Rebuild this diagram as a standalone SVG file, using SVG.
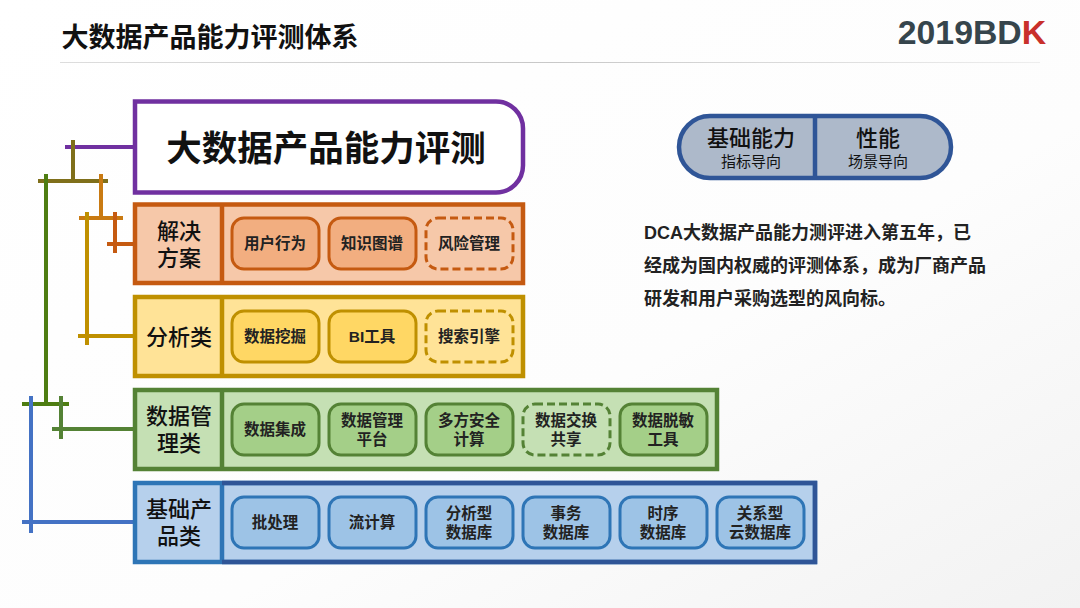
<svg xmlns="http://www.w3.org/2000/svg" width="1080" height="608" viewBox="0 0 1080 608">
<defs>
<style>
text{font-family:"Liberation Sans","Noto Sans CJK SC",sans-serif;text-anchor:middle;fill:#111}
.b{font-size:15.500px;font-weight:700;fill:#222}
.c{font-size:22px;font-weight:500}
.desc{font-size:18px;font-weight:700;text-anchor:start;fill:#222}
.row{stroke-width:4.500}
.i{stroke-width:3}
.or .row{fill:#f6c8a9;stroke:#c55a11}.or .i{fill:#f2ae80;stroke:#c55a11}
.ye .row{fill:#ffe397;stroke:#bf9000}.ye .i{fill:#ffd764;stroke:#bf9000}
.gr .row{fill:#c5e0b4;stroke:#548235}.gr .i{fill:#a4cf88;stroke:#548235}
.bl .row{fill:#b6d0ec;stroke:#2e75b6}.bl .i{fill:#9dc3e6;stroke:#2e75b6}
.i.d{fill:none;stroke-dasharray:8 4}
#connectors path{fill:none;stroke-width:4}
</style>
<linearGradient id="bg" x1="0" y1="0" x2="1" y2="1"><stop offset="0" stop-color="#fff"/><stop offset="0.6" stop-color="#fdfdfd"/><stop offset="1" stop-color="#f2f2f2"/></linearGradient>
<linearGradient id="rule" x1="0" y1="0" x2="1" y2="0"><stop offset="0" stop-color="#ddd"/><stop offset="0.5" stop-color="#c8c8c8"/><stop offset="1" stop-color="#eee"/></linearGradient>
</defs>
<rect width="1080" height="608" fill="url(#bg)"/>
<rect x="60" y="62" width="980" height="1" fill="url(#rule)"/>
<text x="210" y="47" style="font-size:27px;font-weight:700">大数据产品能力评测体系</text>
<text x="972" y="44" style="font-size:33.800px;font-weight:700;fill:#36454c">2019BD<tspan fill="#c8302b">K</tspan></text>

<g id="connectors">
<path stroke="#7030a0" d="M65 147H135"/>
<path stroke="#7f6f1a" d="M73 140V181M38 181H108"/>
<path stroke="#c97a12" d="M101 174V218M79 218H123"/>
<path stroke="#c55a11" d="M115 212V253M107 244H135"/>
<path stroke="#bf9000" d="M87 212V345M78 336H135"/>
<path stroke="#4e7d12" d="M46 174V404M22 404H69"/>
<path stroke="#548235" d="M61 396V439M52 429H135"/>
<path stroke="#4472c4" d="M31 396V533M22 522H135"/>
</g>

<g id="root"><path d="M135 101.500H496a27 27 0 0 1 27 27V165.500a27 27 0 0 1 -27 27H135Z" fill="#fff" stroke="#7030a0" stroke-width="4.500"/>
<text x="326" y="161" style="font-size:35.500px;font-weight:700">大数据产品能力评测</text></g>

<g id="solution" class="or"><rect class="row" x="135" y="204.500" width="388" height="78.500"/><path class="row" d="M222 204V283" fill="none"/>
<text class="c" y="239"><tspan x="179">解决</tspan><tspan x="179" dy="27">方案</tspan></text>
<rect class="i" x="232" y="218" width="87" height="51" rx="12"/><text class="b" x="275" y="249">用户行为</text>
<rect class="i" x="329" y="218" width="87" height="51" rx="12"/><text class="b" x="372" y="249">知识图谱</text>
<rect class="i d" x="426" y="218" width="87" height="51" rx="12"/><text class="b" x="469" y="249">风险管理</text></g>

<g id="analysis" class="ye"><rect class="row" x="135" y="297" width="388" height="79"/><path class="row" d="M222 297V376" fill="none"/>
<text class="c" x="179" y="345">分析类</text>
<rect class="i" x="232" y="311" width="87" height="51" rx="12"/><text class="b" x="275" y="342">数据挖掘</text>
<rect class="i" x="329" y="311" width="87" height="51" rx="12"/><text class="b" x="372" y="342">BI工具</text>
<rect class="i d" x="426" y="311" width="87" height="51" rx="12"/><text class="b" x="469" y="342">搜索引擎</text></g>

<g id="data-mgmt" class="gr"><rect class="row" x="135" y="390" width="582" height="79"/><path class="row" d="M222 390V469" fill="none"/>
<text class="c" y="424"><tspan x="179">数据管</tspan><tspan x="179" dy="27">理类</tspan></text>
<rect class="i" x="232" y="404" width="87" height="51" rx="12"/><text class="b" x="275" y="435">数据集成</text>
<rect class="i" x="329" y="404" width="87" height="51" rx="12"/><text class="b" y="426"><tspan x="372">数据管理</tspan><tspan x="372" dy="19">平台</tspan></text>
<rect class="i" x="426" y="404" width="87" height="51" rx="12"/><text class="b" y="426"><tspan x="469">多方安全</tspan><tspan x="469" dy="19">计算</tspan></text>
<rect class="i d" x="523" y="404" width="87" height="51" rx="12"/><text class="b" y="426"><tspan x="566">数据交换</tspan><tspan x="566" dy="19">共享</tspan></text>
<rect class="i" x="620" y="404" width="87" height="51" rx="12"/><text class="b" y="426"><tspan x="663">数据脱敏</tspan><tspan x="663" dy="19">工具</tspan></text></g>

<g id="infra" class="bl"><rect class="row" x="135" y="483" width="680" height="79"/><path class="row" d="M222 483V562" fill="none"/>
<path d="M222 483H815V562H222" fill="none" stroke="#2f5597" stroke-width="4.500"/>
<text class="c" y="517"><tspan x="179">基础产</tspan><tspan x="179" dy="27">品类</tspan></text>
<rect class="i" x="232" y="497" width="87" height="51" rx="12"/><text class="b" x="275" y="528">批处理</text>
<rect class="i" x="329" y="497" width="87" height="51" rx="12"/><text class="b" x="372" y="528">流计算</text>
<rect class="i" x="426" y="497" width="87" height="51" rx="12"/><text class="b" y="519"><tspan x="469">分析型</tspan><tspan x="469" dy="19">数据库</tspan></text>
<rect class="i" x="523" y="497" width="87" height="51" rx="12"/><text class="b" y="519"><tspan x="566">事务</tspan><tspan x="566" dy="19">数据库</tspan></text>
<rect class="i" x="620" y="497" width="87" height="51" rx="12"/><text class="b" y="519"><tspan x="663">时序</tspan><tspan x="663" dy="19">数据库</tspan></text>
<rect class="i" x="717" y="497" width="87" height="51" rx="12"/><text class="b" y="519"><tspan x="760">关系型</tspan><tspan x="760" dy="19">云数据库</tspan></text></g>

<g id="legend"><rect x="679" y="116" width="272" height="62" rx="31" fill="#adb9ca" stroke="#2f5597" stroke-width="4.500"/>
<path d="M815 116V178" stroke="#2f5597" stroke-width="4.500" fill="none"/>
<text x="751" y="146" style="font-size:22px;font-weight:500">基础能力</text><text x="751" y="167" style="font-size:15px">指标导向</text>
<text x="878" y="146" style="font-size:22px;font-weight:500">性能</text><text x="878" y="167" style="font-size:15px">场景导向</text></g>

<g id="desc">
<text class="desc" x="644" y="239">DCA大数据产品能力测评进入第五年，已</text>
<text class="desc" x="644" y="272">经成为国内权威的评测体系，成为厂商产品</text>
<text class="desc" x="644" y="305">研发和用户采购选型的风向标。</text>
</g>
</svg>
